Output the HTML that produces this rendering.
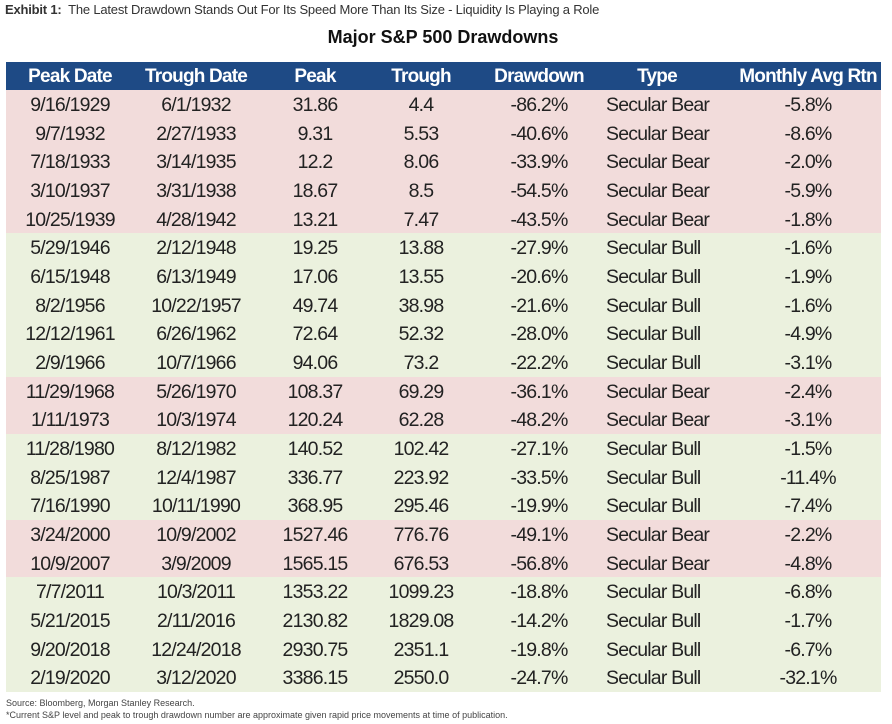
<!DOCTYPE html><html><head><style>
body{margin:0;width:892px;height:724px;background:#fff;font-family:"Liberation Sans",Arial,sans-serif;position:relative;overflow:hidden}
.t{position:absolute;left:5px;top:2px;font-size:13px;color:#333;letter-spacing:-0.2px}
.h{position:absolute;top:27px;left:0;width:886px;text-align:center;font-weight:bold;font-size:18px;color:#111}
.r{position:absolute;left:6px;width:875px;height:28.67px;font-size:19.5px;color:#222;letter-spacing:-0.8px}
.r span{position:absolute;top:4px;transform:translateX(-50%);white-space:nowrap}
.r span.ty{transform:none}
.hd{background:#1e4a85;color:#fff;font-weight:bold;height:28px;font-size:19px}
.p{background:#f2dcdb}.g{background:#ebf1de}
.f{position:absolute;left:6px;font-size:9px;color:#444}
</style></head><body>
<div class="t"><b>Exhibit 1:</b>&nbsp; The Latest Drawdown Stands Out For Its Speed More Than Its Size - Liquidity Is Playing a Role</div>
<div class="h">Major S&amp;P 500 Drawdowns</div>
<div id="tb"></div>
<div class="f" style="top:698px">Source: Bloomberg, Morgan Stanley Research.</div>
<div class="f" style="top:710px">*Current S&amp;P level and peak to trough drawdown number are approximate given rapid price movements at time of publication.</div>
<script>
var d=[["9/16/1929","6/1/1932","31.86","4.4","-86.2%","Secular Bear","-5.8%"],
["9/7/1932","2/27/1933","9.31","5.53","-40.6%","Secular Bear","-8.6%"],
["7/18/1933","3/14/1935","12.2","8.06","-33.9%","Secular Bear","-2.0%"],
["3/10/1937","3/31/1938","18.67","8.5","-54.5%","Secular Bear","-5.9%"],
["10/25/1939","4/28/1942","13.21","7.47","-43.5%","Secular Bear","-1.8%"],
["5/29/1946","2/12/1948","19.25","13.88","-27.9%","Secular Bull","-1.6%"],
["6/15/1948","6/13/1949","17.06","13.55","-20.6%","Secular Bull","-1.9%"],
["8/2/1956","10/22/1957","49.74","38.98","-21.6%","Secular Bull","-1.6%"],
["12/12/1961","6/26/1962","72.64","52.32","-28.0%","Secular Bull","-4.9%"],
["2/9/1966","10/7/1966","94.06","73.2","-22.2%","Secular Bull","-3.1%"],
["11/29/1968","5/26/1970","108.37","69.29","-36.1%","Secular Bear","-2.4%"],
["1/11/1973","10/3/1974","120.24","62.28","-48.2%","Secular Bear","-3.1%"],
["11/28/1980","8/12/1982","140.52","102.42","-27.1%","Secular Bull","-1.5%"],
["8/25/1987","12/4/1987","336.77","223.92","-33.5%","Secular Bull","-11.4%"],
["7/16/1990","10/11/1990","368.95","295.46","-19.9%","Secular Bull","-7.4%"],
["3/24/2000","10/9/2002","1527.46","776.76","-49.1%","Secular Bear","-2.2%"],
["10/9/2007","3/9/2009","1565.15","676.53","-56.8%","Secular Bear","-4.8%"],
["7/7/2011","10/3/2011","1353.22","1099.23","-18.8%","Secular Bull","-6.8%"],
["5/21/2015","2/11/2016","2130.82","1829.08","-14.2%","Secular Bull","-1.7%"],
["9/20/2018","12/24/2018","2930.75","2351.1","-19.8%","Secular Bull","-6.7%"],
["2/19/2020","3/12/2020","3386.15","2550.0","-24.7%","Secular Bull","-32.1%"]];
var cx=[64,190,309,415,533,null,802];
function row(v,cls,top){var s='<div class="r '+cls+'" style="top:'+top+'px">';
v.forEach(function(t,i){ if(i==5&&cls!='hd') s+='<span class="ty" style="left:600px">'+t+'</span>'; else s+='<span style="left:'+(i==5?651:cx[i])+'px">'+t+'</span>';});
return s+'</div>';}
var h=row(["Peak Date","Trough Date","Peak","Trough","Drawdown","Type","Monthly Avg Rtn"],"hd",62);
d.forEach(function(v,i){h+=row(v,v[5]=="Secular Bear"?"p":"g",90+i*28.67);});
document.getElementById('tb').innerHTML=h;
</script>
</body></html>
